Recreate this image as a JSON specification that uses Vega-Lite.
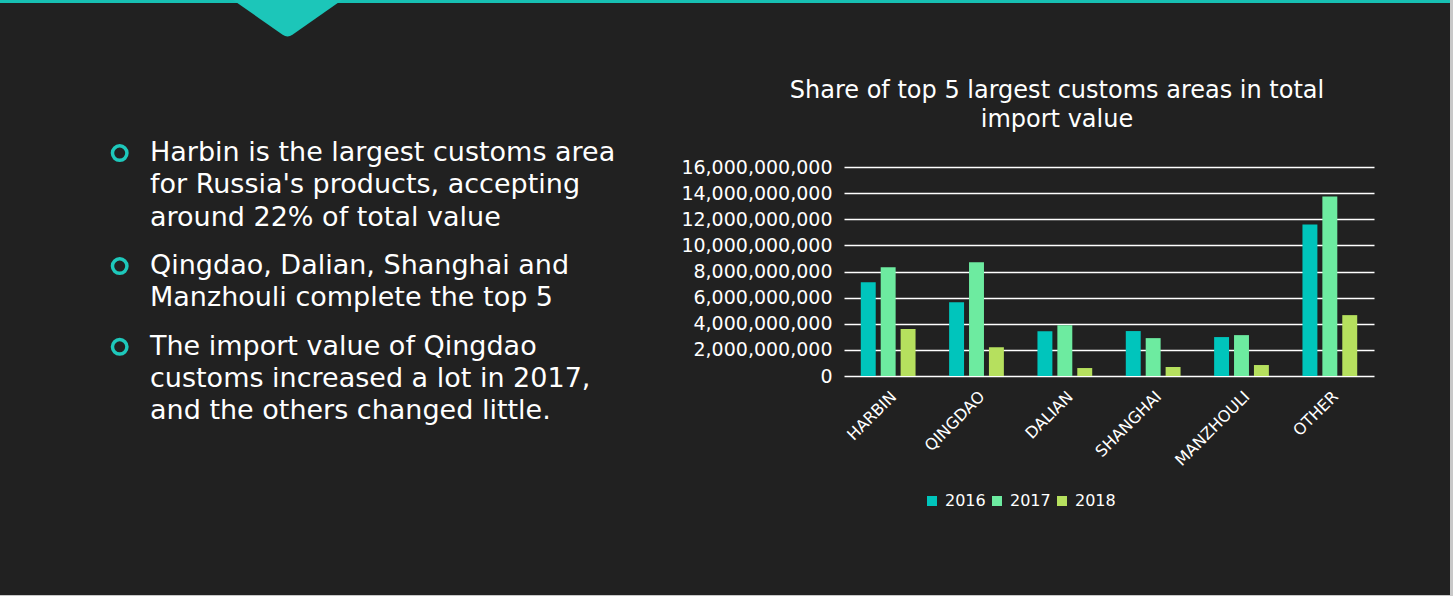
{
  "$schema": "https://vega.github.io/schema/vega-lite/v6.json",
  "background": "#212121",
  "padding": 0,
  "spacing": 0,
  "config": {
    "view": {"stroke": null},
    "font": "DejaVu Sans",
    "concat": {"spacing": 0}
  },
  "hconcat": [
    {
      "spacing": 0,
      "vconcat": [
        {
          "width": 1450,
          "height": 79,
          "data": {"values": [{}]},
          "layer": [
            {
              "mark": {"type": "rect", "color": "#17c0b3"},
              "encoding": {
                "x": {"datum": 0, "type": "quantitative", "scale": {"domain": [0, 1], "nice": false}, "axis": null},
                "x2": {"datum": 1},
                "y": {"datum": 0, "type": "quantitative", "scale": {"domain": [0, 79], "nice": false, "reverse": true}, "axis": null},
                "y2": {"datum": 3}
              }
            },
            {
              "mark": {
                "type": "point",
                "shape": "M-1,0 L1,0 L0.09,0.637 Q0,0.7 -0.09,0.637 Z",
                "size": 11881,
                "filled": true,
                "color": "#1cc6b9",
                "opacity": 1,
                "strokeWidth": 0
              },
              "encoding": {
                "x": {"datum": 0.1983, "type": "quantitative"},
                "y": {"datum": 0, "type": "quantitative"}
              }
            }
          ]
        },
        {
          "spacing": 0,
          "hconcat": [
            {
              "width": 680,
              "height": 428,
              "data": {
                "values": [
                  {"item": 1, "part": 1, "line": 0, "text": "Harbin is the largest customs area"},
                  {"item": 1, "part": 2, "line": 1, "text": "for Russia's products, accepting"},
                  {"item": 1, "part": 3, "line": 2, "text": "around 22% of total value"},
                  {"item": 2, "part": 1, "line": 3.5, "text": "Qingdao, Dalian, Shanghai and"},
                  {"item": 2, "part": 2, "line": 4.5, "text": "Manzhouli complete the top 5"},
                  {"item": 3, "part": 1, "line": 6, "text": "The import value of Qingdao"},
                  {"item": 3, "part": 2, "line": 7, "text": "customs increased a lot in 2017,"},
                  {"item": 3, "part": 3, "line": 8, "text": "and the others changed little."}
                ]
              },
              "layer": [
                {
                  "transform": [{"filter": "datum.part === 1"}],
                  "mark": {"type": "point", "shape": "circle", "size": 210, "filled": false, "stroke": "#1ec8bb", "strokeWidth": 3.5, "opacity": 1},
                  "encoding": {
                    "x": {"datum": 119.7, "type": "quantitative", "scale": {"domain": [0, 680], "nice": false}, "axis": null},
                    "y": {"field": "line", "type": "quantitative", "scale": {"domain": [0.433, 13.684], "nice": false, "zero": false, "reverse": true}, "axis": null}
                  }
                },
                {
                  "mark": {"type": "text", "align": "left", "baseline": "middle", "fontSize": 27, "color": "#ffffff"},
                  "encoding": {
                    "x": {"datum": 150, "type": "quantitative"},
                    "y": {"field": "line", "type": "quantitative"},
                    "text": {"field": "text"}
                  }
                }
              ]
            },
            {
              "width": 530,
              "height": 209,
              "title": {
                "text": ["Share of top 5 largest customs areas in total", "import value"],
                "fontSize": 24,
                "fontWeight": "normal",
                "color": "#ffffff",
                "anchor": "middle",
                "frame": "group",
                "dx": -52,
                "lineHeight": 29,
                "offset": 26
              },
              "data": {
                "values": [
                  {"area": "HARBIN", "year": "2016", "value": 7180000000},
                  {"area": "HARBIN", "year": "2017", "value": 8320000000},
                  {"area": "HARBIN", "year": "2018", "value": 3590000000},
                  {"area": "QINGDAO", "year": "2016", "value": 5650000000},
                  {"area": "QINGDAO", "year": "2017", "value": 8700000000},
                  {"area": "QINGDAO", "year": "2018", "value": 2210000000},
                  {"area": "DALIAN", "year": "2016", "value": 3430000000},
                  {"area": "DALIAN", "year": "2017", "value": 3890000000},
                  {"area": "DALIAN", "year": "2018", "value": 610000000},
                  {"area": "SHANGHAI", "year": "2016", "value": 3440000000},
                  {"area": "SHANGHAI", "year": "2017", "value": 2900000000},
                  {"area": "SHANGHAI", "year": "2018", "value": 690000000},
                  {"area": "MANZHOULI", "year": "2016", "value": 2980000000},
                  {"area": "MANZHOULI", "year": "2017", "value": 3130000000},
                  {"area": "MANZHOULI", "year": "2018", "value": 840000000},
                  {"area": "OTHER", "year": "2016", "value": 11600000000},
                  {"area": "OTHER", "year": "2017", "value": 13740000000},
                  {"area": "OTHER", "year": "2018", "value": 4660000000}
                ]
              },
              "mark": {"type": "bar"},
              "encoding": {
                "x": {
                  "field": "area",
                  "type": "nominal",
                  "sort": ["HARBIN", "QINGDAO", "DALIAN", "SHANGHAI", "MANZHOULI", "OTHER"],
                  "scale": {"paddingInner": 0.38, "paddingOuter": 0.19},
                  "axis": {
                    "title": null,
                    "labelAngle": -45,
                    "labelFontSize": 16,
                    "labelColor": "#ffffff",
                    "labelPadding": 12,
                    "ticks": false,
                    "domain": false
                  }
                },
                "xOffset": {
                  "field": "year",
                  "type": "nominal",
                  "scale": {"paddingInner": 0.25, "paddingOuter": 0}
                },
                "y": {
                  "field": "value",
                  "type": "quantitative",
                  "scale": {"domain": [0, 16000000000], "nice": false},
                  "axis": {
                    "title": null,
                    "values": [0, 2000000000, 4000000000, 6000000000, 8000000000, 10000000000, 12000000000, 14000000000, 16000000000],
                    "format": ",.0f",
                    "labelFontSize": 19,
                    "labelColor": "#ffffff",
                    "labelPadding": 12,
                    "ticks": false,
                    "tickSize": 0,
                    "domain": false,
                    "grid": true,
                    "gridColor": "#ffffff",
                    "gridWidth": 1.3,
                    "gridOpacity": 1
                  }
                },
                "color": {
                  "field": "year",
                  "type": "nominal",
                  "scale": {"domain": ["2016", "2017", "2018"], "range": ["#00c5bc", "#6deba0", "#b6e05e"]},
                  "legend": {
                    "title": null,
                    "orient": "none",
                    "direction": "horizontal",
                    "legendX": 924,
                    "legendY": 493,
                    "symbolType": "square",
                    "symbolSize": 100,
                    "symbolStrokeWidth": 0,
                    "labelFontSize": 16,
                    "labelColor": "#ffffff",
                    "labelOffset": 5,
                    "columnPadding": 3
                  }
                }
              }
            }
          ]
        },
        {
          "width": 1450,
          "height": 2,
          "view": {"fill": "#c8c8c8", "stroke": null},
          "data": {"values": [{}]},
          "mark": {"type": "rect", "color": "#c8c8c8"},
          "encoding": {}
        }
      ]
    },
    {
      "width": 3,
      "height": 596,
      "view": {"fill": "#c8c8c8", "stroke": null},
      "data": {"values": [{}]},
      "mark": {"type": "rect", "color": "#c8c8c8"},
      "encoding": {}
    }
  ]
}
